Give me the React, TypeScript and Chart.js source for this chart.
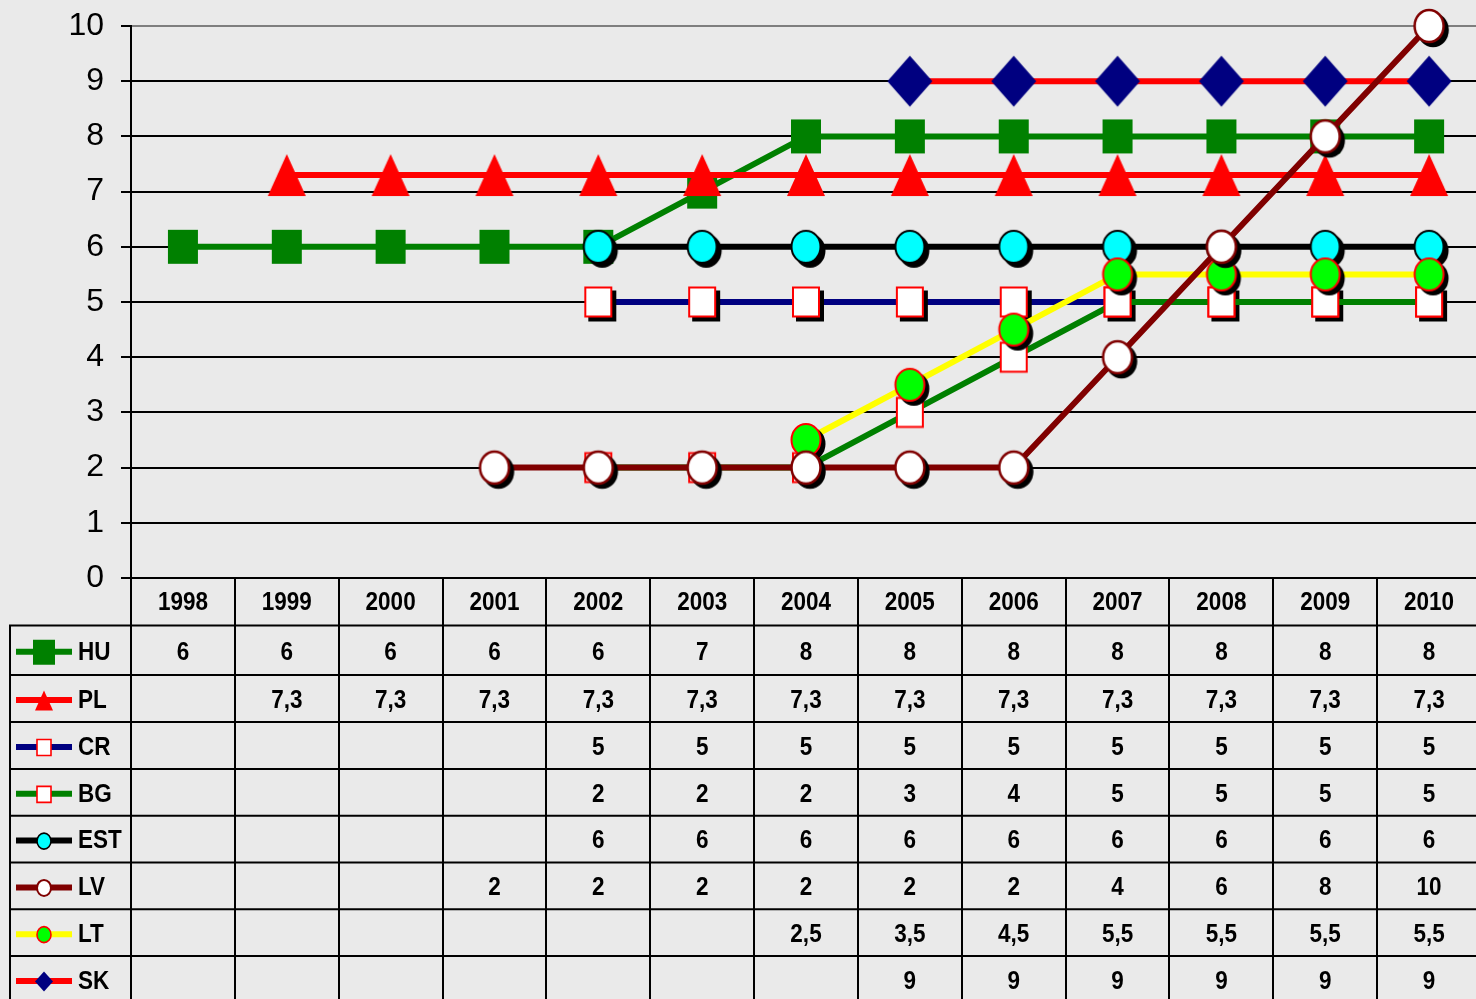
import React, { useEffect, useRef } from "react";
import { Chart, registerables } from "chart.js";

Chart.register(...registerables);

const categories = ["1998", "1999", "2000", "2001", "2002", "2003", "2004", "2005", "2006", "2007", "2008", "2009", "2010"];
const seriesNames = ["HU", "PL", "CR", "BG", "EST", "LV", "LT", "SK"];
const huValues = [6, 6, 6, 6, 6, 7, 8, 8, 8, 8, 8, 8, 8];
const plValues = [null, 7.3, 7.3, 7.3, 7.3, 7.3, 7.3, 7.3, 7.3, 7.3, 7.3, 7.3, 7.3];
const crValues = [null, null, null, null, 5, 5, 5, 5, 5, 5, 5, 5, 5];
const bgValues = [null, null, null, null, 2, 2, 2, 3, 4, 5, 5, 5, 5];
const estValues = [null, null, null, null, 6, 6, 6, 6, 6, 6, 6, 6, 6];
const lvValues = [null, null, null, 2, 2, 2, 2, 2, 2, 4, 6, 8, 10];
const ltValues = [null, null, null, null, null, null, 2.5, 3.5, 4.5, 5.5, 5.5, 5.5, 5.5];
const skValues = [null, null, null, null, null, null, null, 9, 9, 9, 9, 9, 9];
const yTickValues = [0, 1, 2, 3, 4, 5, 6, 7, 8, 9, 10];

const allValues = [huValues, plValues, crValues, bgValues, estValues, lvValues, ltValues, skValues];

type Shape = "rect" | "tri" | "circle" | "diamond";
interface Style {
  line: string;
  shape: Shape;
  w: number;
  h: number;
  lw: number;
  lh: number;
  fill: string;
  stroke: string | null;
  strokeW: number;
  shadow: boolean;
  order: number;
}

const styles: Style[] = [
  { line: "#008000", shape: "rect", w: 30, h: 34, lw: 22, lh: 25, fill: "#008000", stroke: null, strokeW: 0, shadow: false, order: 8 },
  { line: "#ff0000", shape: "tri", w: 38, h: 42, lw: 18, lh: 20, fill: "#ff0000", stroke: null, strokeW: 0, shadow: false, order: 7 },
  { line: "#000080", shape: "rect", w: 26, h: 29, lw: 14, lh: 16, fill: "#ffffff", stroke: "#ff0000", strokeW: 2, shadow: true, order: 6 },
  { line: "#008000", shape: "rect", w: 26, h: 29, lw: 14, lh: 16, fill: "#ffffff", stroke: "#ff0000", strokeW: 2, shadow: false, order: 5 },
  { line: "#000000", shape: "circle", w: 29, h: 32, lw: 14, lh: 16, fill: "#00ffff", stroke: "#000000", strokeW: 2, shadow: true, order: 4 },
  { line: "#800000", shape: "circle", w: 29, h: 32, lw: 14, lh: 16, fill: "#ffffff", stroke: "#800000", strokeW: 2.5, shadow: true, order: 1 },
  { line: "#ffff00", shape: "circle", w: 29, h: 32, lw: 14, lh: 16, fill: "#00ff00", stroke: "#ff0000", strokeW: 2, shadow: true, order: 2 },
  { line: "#ff0000", shape: "diamond", w: 45, h: 51, lw: 18, lh: 20, fill: "#000080", stroke: null, strokeW: 0, shadow: false, order: 3 },
];

const FONT = '"Liberation Sans", Arial, sans-serif';
const BG = "#eaeaea";

function shapePath(ctx: CanvasRenderingContext2D, shape: Shape, cx: number, cy: number, w: number, h: number) {
  ctx.beginPath();
  if (shape === "rect") {
    ctx.rect(cx - w / 2, cy - h / 2, w, h);
  } else if (shape === "tri") {
    ctx.moveTo(cx, cy - h / 2);
    ctx.lineTo(cx + w / 2, cy + h / 2);
    ctx.lineTo(cx - w / 2, cy + h / 2);
    ctx.closePath();
  } else if (shape === "circle") {
    ctx.ellipse(cx, cy, w / 2, h / 2, 0, 0, Math.PI * 2);
  } else {
    ctx.moveTo(cx, cy - h / 2);
    ctx.lineTo(cx + w / 2, cy);
    ctx.lineTo(cx, cy + h / 2);
    ctx.lineTo(cx - w / 2, cy);
    ctx.closePath();
  }
}

function drawMarker(ctx: CanvasRenderingContext2D, s: Style, cx: number, cy: number, w: number, h: number, shadow: boolean, sw: number) {
  if (shadow) {
    shapePath(ctx, s.shape, cx + 4, cy + 4, w, h);
    ctx.fillStyle = "#000";
    ctx.fill();
    if (s.stroke) {
      ctx.lineWidth = sw;
      ctx.strokeStyle = "#000";
      ctx.stroke();
    }
  }
  shapePath(ctx, s.shape, cx, cy, w, h);
  ctx.fillStyle = s.fill;
  ctx.fill();
  if (s.stroke) {
    ctx.lineWidth = sw;
    ctx.strokeStyle = s.stroke;
    ctx.stroke();
  }
}

function makeMarkerCanvas(s: Style): HTMLCanvasElement {
  const pad = 4 + s.strokeW + 3;
  const W = Math.ceil((s.w + 2 * pad) / 2) * 2;
  const H = Math.ceil((s.h + 2 * pad) / 2) * 2;
  const c = document.createElement("canvas");
  c.width = W;
  c.height = H;
  const ctx = c.getContext("2d")!;
  drawMarker(ctx, s, W / 2, H / 2, s.w, s.h, s.shadow, s.strokeW);
  return c;
}

function fmt(v: number | null): string {
  if (v === null || v === undefined) return "";
  return String(v).replace(".", ",");
}

// row edges below the x axis (header + 8 series rows)
const rowOffsets = [0, 47.5, 97, 144, 191, 237.7, 284.5, 331.3, 378, 425];

function drawText(ctx: CanvasRenderingContext2D, text: string, x: number, y: number, align: CanvasTextAlign) {
  ctx.save();
  ctx.translate(x, y);
  ctx.scale(0.9, 1);
  ctx.textAlign = align;
  ctx.textBaseline = "middle";
  ctx.fillText(text, 0, 0);
  ctx.restore();
}

const tablePlugin = {
  id: "dataTable",
  beforeDraw(chart: any) {
    const ctx = chart.ctx as CanvasRenderingContext2D;
    ctx.save();
    ctx.fillStyle = BG;
    ctx.fillRect(0, 0, chart.width, chart.height);
    ctx.restore();
  },
  afterDraw(chart: any) {
    const ctx = chart.ctx as CanvasRenderingContext2D;
    const area = chart.chartArea;
    const xs = chart.scales.x;
    const n = categories.length;
    const colW = (area.right - area.left) / n;
    const top = area.bottom;
    const edges = rowOffsets.map((o) => top + o);
    ctx.save();
    ctx.strokeStyle = "#000";
    ctx.lineWidth = 2;
    // horizontal row lines
    for (let i = 1; i < edges.length; i++) {
      ctx.beginPath();
      ctx.moveTo(9, edges[i]);
      ctx.lineTo(chart.width, edges[i]);
      ctx.stroke();
    }
    // vertical column lines
    for (let j = 0; j <= n; j++) {
      const xx = Math.round(xs.getPixelForValue(Math.min(j, n - 1)) + (j === n ? colW / 2 : -colW / 2));
      ctx.beginPath();
      ctx.moveTo(xx, top);
      ctx.lineTo(xx, chart.height);
      ctx.stroke();
    }
    // left border
    ctx.beginPath();
    ctx.moveTo(10, edges[1]);
    ctx.lineTo(10, chart.height);
    ctx.stroke();

    ctx.fillStyle = "#000";
    ctx.font = `bold 25px ${FONT}`;
    // header
    categories.forEach((c, j) => {
      drawText(ctx, c, xs.getPixelForValue(j), (edges[0] + edges[1]) / 2 + 1, "center");
    });
    // rows
    seriesNames.forEach((name, i) => {
      const s = styles[i];
      const cy = (edges[i + 1] + edges[i + 2]) / 2 + 2.5;
      // legend key
      ctx.strokeStyle = s.line;
      ctx.lineWidth = 6;
      ctx.beginPath();
      ctx.moveTo(16, cy - 1);
      ctx.lineTo(72, cy - 1);
      ctx.stroke();
      drawMarker(ctx, s, 44, cy - 0.5, s.lw, s.lh, false, Math.max(1.5, s.strokeW * 0.8));
      ctx.fillStyle = "#000";
      drawText(ctx, name, 78, cy, "left");
      allValues[i].forEach((v, j) => {
        const t = fmt(v);
        if (t) drawText(ctx, t, xs.getPixelForValue(j), cy, "center");
      });
    });
    ctx.restore();
  },
};

export default function App() {
  const ref = useRef<HTMLCanvasElement | null>(null);
  useEffect(() => {
    document.body.style.margin = "0";
    document.body.style.background = BG;
    document.documentElement.style.overflow = "hidden";
    const canvas = ref.current!;
    const datasets = seriesNames.map((name, i) => {
      const s = styles[i];
      return {
        label: name,
        data: allValues[i],
        borderColor: s.line,
        backgroundColor: s.line,
        borderWidth: 6,
        pointStyle: makeMarkerCanvas(s),
        pointRadius: 15,
        pointHoverRadius: 15,
        tension: 0,
        spanGaps: false,
        clip: false,
        order: s.order,
      };
    });
    const chart = new Chart(canvas, {
      type: "line",
      data: { labels: categories, datasets: datasets as any },
      plugins: [tablePlugin],
      options: {
        animation: false,
        responsive: false,
        devicePixelRatio: 1,
        events: [],
        layout: { autoPadding: false, padding: { top: 26, right: 1, left: 0, bottom: 0 } },
        plugins: {
          legend: { display: false },
          tooltip: { enabled: false },
        },
        scales: {
          x: {
            type: "category",
            offset: true,
            grid: { display: false },
            ticks: { display: false },
            border: { display: true, color: "#000", width: 2 },
            afterFit: (scale: any) => {
              scale.height = 421;
            },
          },
          y: {
            min: 0,
            max: 10,
            afterBuildTicks: (scale: any) => {
              scale.ticks = yTickValues.map((v) => ({ value: v }));
            },
            ticks: {
              color: "#000",
              font: { family: FONT, size: 32, lineHeight: 0.5 },
              padding: 17,
            },
            grid: {
              color: (c: any) => (c.tick && c.tick.value === 10 ? "#7f7f7f" : "#000"),
              tickColor: "#000",
              lineWidth: 2,
              tickLength: 10,
            },
            border: { display: true, color: "#000", width: 2 },
            afterFit: (scale: any) => {
              scale.width = 131;
            },
          },
        },
      },
    });
    return () => chart.destroy();
  }, []);
  return (
    <div style={{ width: 1482, height: 999, overflow: "hidden" }}>
      <canvas ref={ref} width={1482} height={999} style={{ display: "block", width: 1482, height: 999 }} />
    </div>
  );
}
